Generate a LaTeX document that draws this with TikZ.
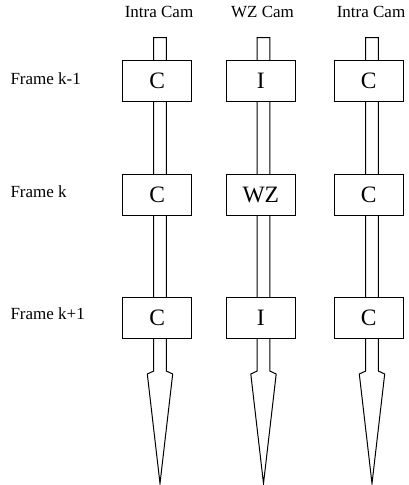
\documentclass[tikz,border=0pt]{standalone}
\usepackage{fontspec}
\setmainfont{Liberation Serif}
\begin{document}
\begin{tikzpicture}[x=1pt,y=-1pt,
  line width=1pt,
  lbl/.style={font=\fontsize{17}{20}\selectfont, inner sep=0pt},
  fbox/.style={draw, fill=white, minimum width=69.5pt, minimum height=41pt, inner sep=0pt, font=\fontsize{23.5}{26}\selectfont},
  shaft/.style={draw, fill=white, line join=miter}
]
\useasboundingbox (0,0) rectangle (409,485);
% column labels
\node[lbl, anchor=base] (c1) at (159,17.7) {Intra Cam};
\node[lbl, anchor=base] (c2) at (262.5,17.7) {WZ Cam};
\node[lbl, anchor=base] (c3) at (371,17.7) {Intra Cam};
% row labels
\node[lbl, anchor=base west] (r1) at (10,84.3) {Frame k-1};
\node[lbl, anchor=base west] (r2) at (10,197.7) {Frame k};
\node[lbl, anchor=base west] (r3) at (10,319.3) {Frame k+1};
% shafts with arrowheads
\foreach \cx/\n in {160/a, 263.5/b, 372/c} {
  \coordinate (top\n) at (\cx,37.7);
  \coordinate (tip\n) at (\cx,483.5);
  \draw[shaft] ([xshift=-6.3pt]top\n) -- ([xshift=6.3pt]top\n) -- (\cx+6.3,371) -- (\cx+12.7,374) -- (tip\n) -- (\cx-12.7,374) -- (\cx-6.3,371) -- cycle;
}
% boxes
\node[fbox] (a1) at (157.2,81.2) {C};
\node[fbox] (a2) at (157.2,194.5) {C};
\node[fbox] (a3) at (157.2,317.8) {C};
\node[fbox] (b1) at (260.8,81.2) {I};
\node[fbox] (b2) at (260.8,194.5) {WZ};
\node[fbox] (b3) at (260.8,317.8) {I};
\node[fbox] (d1) at (368.8,81.2) {C};
\node[fbox] (d2) at (368.8,194.5) {C};
\node[fbox] (d3) at (368.8,317.8) {C};
\end{tikzpicture}
\end{document}
